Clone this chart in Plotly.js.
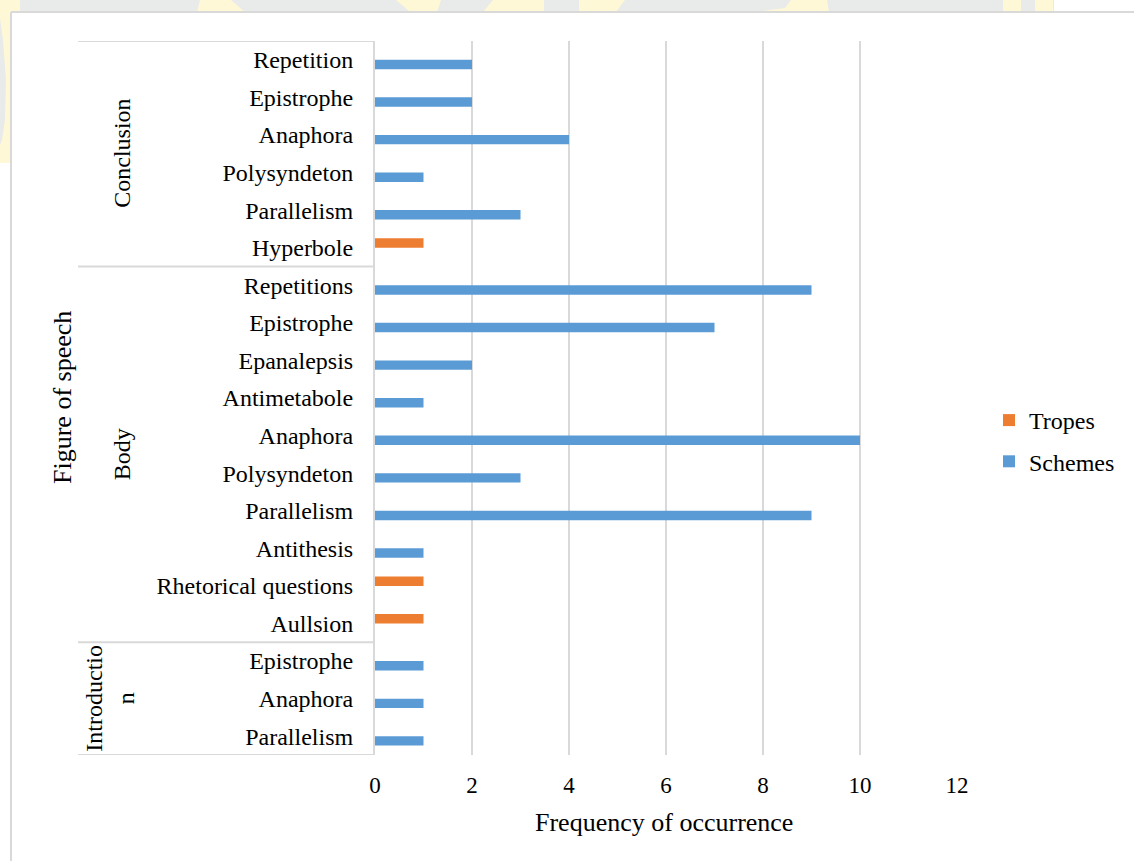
<!DOCTYPE html>
<html>
<head>
<meta charset="utf-8">
<script src="https://cdn.plot.ly/plotly-3.0.1.min.js"></script>
<style>
  html, body { margin: 0; padding: 0; background: #ffffff; }
  #chart { width: 1134px; height: 861px; }
</style>
</head>
<body>
<div id="chart"></div>
<script>
// Figures of speech per speech section, listed top to bottom
const categories = [
  'Repetition', 'Epistrophe', 'Anaphora', 'Polysyndeton', 'Parallelism', 'Hyperbole',
  'Repetitions', 'Epistrophe', 'Epanalepsis', 'Antimetabole', 'Anaphora', 'Polysyndeton',
  'Parallelism', 'Antithesis', 'Rhetorical questions', 'Aullsion',
  'Epistrophe', 'Anaphora', 'Parallelism'
];
const sections = [
  'Conclusion', 'Conclusion', 'Conclusion', 'Conclusion', 'Conclusion', 'Conclusion',
  'Body', 'Body', 'Body', 'Body', 'Body', 'Body', 'Body', 'Body', 'Body', 'Body',
  'Introduction', 'Introduction', 'Introduction'
];
// section names as printed in the narrow label column
const sectionLabels = { 'Conclusion': 'Conclusion', 'Body': 'Body', 'Introduction': 'Introductio<br>n' };
const tropes  = [0, 0, 0, 0, 0, 1, 0, 0, 0, 0, 0, 0, 0, 0, 1, 1, 0, 0, 0];
const schemes = [2, 2, 4, 1, 3, 0, 9, 7, 2, 1, 10, 3, 9, 1, 0, 0, 1, 1, 1];
const xTicks = [0, 2, 4, 6, 8, 10, 12];

// page geometry (pixels)
const W = 1134, H = 861;
const M = { l: 375, r: 177, t: 41, b: 106 };
const px2x = p => (p - M.l) / (W - M.l - M.r);
const px2y = p => (H - M.b - p) / (H - M.t - M.b);

const FONT = 'Liberation Serif, Times New Roman, serif';
const GRID = '#d9d9d9';
const idx = categories.map((_, i) => i);

const traces = [
  {
    type: 'bar', orientation: 'h', name: 'Tropes', legendgroup: 'a',
    x: tropes, y: idx,
    marker: { color: '#ed7d31', line: { width: 0 } },
    hoverinfo: 'skip'
  },
  {
    type: 'bar', orientation: 'h', name: 'Schemes', legendgroup: 'b',
    x: schemes, y: idx,
    marker: { color: '#5b9bd5', line: { width: 0 } },
    hoverinfo: 'skip'
  }
];

// section spans along the category axis
const spans = [];
sections.forEach((s, i) => {
  const last = spans[spans.length - 1];
  if (last && last.name === s) last.end = i;
  else spans.push({ name: s, start: i, end: i });
});

const shapes = [];
const annotations = [];

// page backdrop strip along the top and left edges
function poly(pts, color) {
  const d = pts.map((p, k) => (k ? 'L' : 'M') + px2x(p[0]) + ',' + px2y(p[1])).join(' ') + ' Z';
  shapes.push({ type: 'path', xref: 'paper', yref: 'paper', path: d, fillcolor: color, line: { width: 0 }, layer: 'below' });
}
const GREY = '#e9eaea', YEL = '#fff8d6';
poly([[0, 0], [1054, 0], [1054, 12], [0, 12]], GREY);
poly([[0, 0], [11, 0], [11, 163], [0, 163]], YEL);
poly([[0, 18], [3, 40], [6, 80], [5, 120], [2, 140], [0, 145]], GREY);
poly([[2, 0], [20, 0], [20, 12], [2, 12]], YEL);
poly([[200, 0], [231, 0], [245, 12], [197, 12]], YEL);
poly([[396, 0], [441, 0], [437, 12], [410, 12]], YEL);
poly([[493, 0], [544, 0], [544, 12], [483, 12]], YEL);
poly([[579, 0], [625, 0], [616, 12], [579, 12]], YEL);
poly([[791, 0], [827, 0], [829, 12], [755, 12], [785, 8]], YEL);
poly([[1003, 0], [1021, 0], [1021, 12], [1003, 12]], YEL);
poly([[1035, 0], [1053, 0], [1053, 12], [1035, 12]], YEL);
// chart frame
shapes.push({ type: 'line', xref: 'paper', yref: 'paper', x0: px2x(11), x1: px2x(W + 5), y0: px2y(12), y1: px2y(12), line: { color: GRID, width: 2 } });
shapes.push({ type: 'line', xref: 'paper', yref: 'paper', x0: px2x(11), x1: px2x(11), y0: px2y(12), y1: px2y(H + 5), line: { color: GRID, width: 2 } });

// section dividers and rotated section names
const divLeft = px2x(78);
const bounds = new Set();
spans.forEach(sp => { bounds.add(sp.start - 0.5); bounds.add(sp.end + 0.5); });
bounds.forEach(b => {
  shapes.push({ type: 'line', xref: 'paper', yref: 'y', x0: divLeft, x1: 0, y0: b, y1: b, line: { color: GRID, width: 2 } });
});
spans.forEach(sp => {
  const label = sectionLabels[sp.name];
  annotations.push({
    xref: 'paper', yref: 'y',
    x: px2x(label.includes('<br>') ? 110 : 122),
    y: (sp.start + sp.end) / 2,
    text: label, textangle: -90, showarrow: false,
    xanchor: 'center', yanchor: 'middle',
    font: { family: FONT, size: 24, color: '#000' }
  });
});

// axis titles
annotations.push({
  xref: 'paper', yref: 'paper', x: px2x(62), y: 0.5,
  text: 'Figure of speech', textangle: -90, showarrow: false,
  xanchor: 'center', yanchor: 'middle',
  font: { family: FONT, size: 26, color: '#000' }
});
annotations.push({
  xref: 'paper', yref: 'paper', x: px2x(664), y: px2y(822),
  text: 'Frequency of occurrence', showarrow: false,
  xanchor: 'center', yanchor: 'middle',
  font: { family: FONT, size: 26, color: '#000' }
});

const layout = {
  width: W, height: H,
  margin: M,
  paper_bgcolor: '#ffffff',
  plot_bgcolor: 'rgba(0,0,0,0)',
  font: { family: FONT, size: 24, color: '#000' },
  barmode: 'group',
  bargap: 0.5,
  bargroupgap: 0,
  showlegend: true,
  legend: {
    x: px2x(989), xanchor: 'left',
    y: px2y(441), yanchor: 'middle',
    tracegroupgap: 7,
    font: { family: FONT, size: 24, color: '#000' },
    bgcolor: 'rgba(0,0,0,0)'
  },
  xaxis: {
    range: [0, 12],
    tickvals: xTicks,
    ticktext: xTicks.map(String),
    showgrid: true, gridcolor: GRID, gridwidth: 2,
    zeroline: false, showline: false,
    ticks: '', ticklabelstandoff: 14,
    tickfont: { family: FONT, size: 23, color: '#000' },
    fixedrange: true
  },
  yaxis: {
    range: [categories.length - 0.5, -0.5],
    tickvals: idx,
    ticktext: categories,
    showgrid: false, zeroline: false,
    showline: true, linecolor: GRID, linewidth: 2,
    ticks: '', ticklabelstandoff: 15,
    tickfont: { family: FONT, size: 24, color: '#000' },
    fixedrange: true
  },
  shapes: shapes,
  annotations: annotations
};

Plotly.newPlot('chart', traces, layout, { displayModeBar: false, staticPlot: true });
</script>
</body>
</html>
